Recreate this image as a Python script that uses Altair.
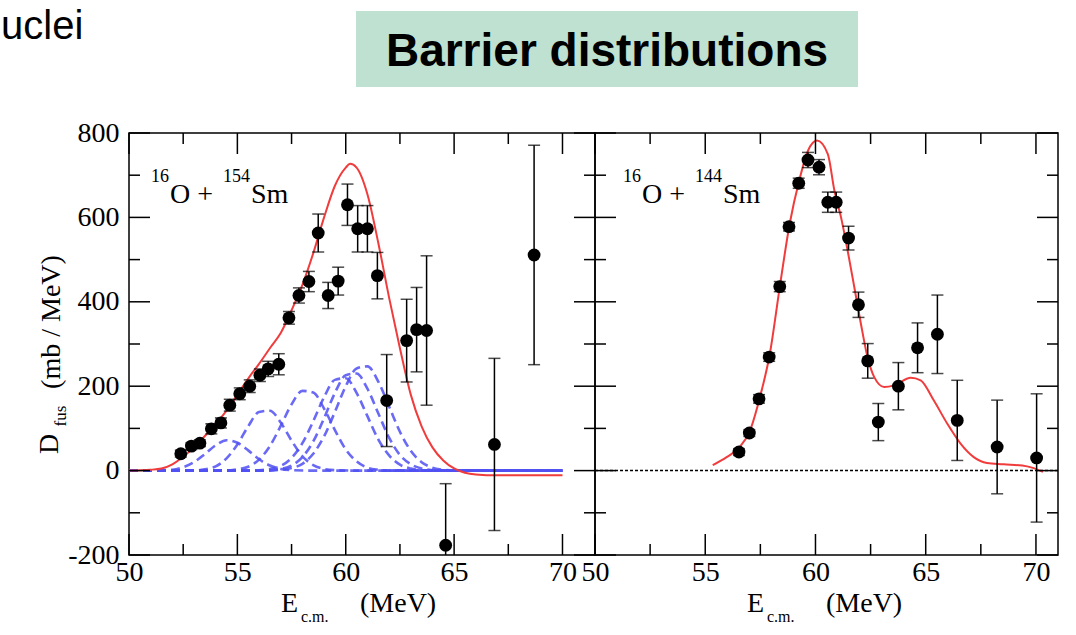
import altair as alt
import pandas as pd

# ---------------- 16O + 154Sm ----------------
# measured barrier distribution: E_cm (MeV), D_fus (mb/MeV), error
sm154_e = [52.39, 52.88, 53.27, 53.80, 54.24, 54.65, 55.11, 55.57, 56.04, 56.42, 56.91,
           57.38, 57.84, 58.30, 58.73, 59.19, 59.65, 60.08, 60.55, 61.00, 61.46, 61.89,
           62.81, 63.27, 63.73, 64.61, 66.86, 68.69]
sm154_d = [40, 58, 65, 99, 113, 155, 182, 200, 226, 241, 252,
           362, 415, 448, 563, 415, 449, 630, 573, 573, 462, 166,
           308, 334, 332, -177, 62, 511]
sm154_err = [8, 8, 8, 12, 12, 14, 14, 15, 15, 18, 25,
             15, 18, 24, 45, 31, 33, 49, 55, 55, 55, 109,
             98, 100, 177, 146, 204, 260]

# calculated distribution
sm154_fit_e = [50, 51, 51.5, 52, 52.5, 53, 53.5, 54, 54.5, 55, 55.5, 56, 56.5, 57, 57.5,
               58, 58.5, 59, 59.5, 60, 60.2, 60.5, 61, 61.5, 62, 62.5, 63, 63.5, 64,
               64.5, 65, 65.5, 66, 67, 70]
sm154_fit_d = [0, 2, 5, 15, 33, 55, 82, 110, 142, 180, 218, 253, 290, 326, 380,
               440, 515, 600, 675, 718, 727, 718, 655, 540, 410, 290, 180, 105, 55,
               24, 5, -5, -9, -11, -11]

# individual barriers of the calculation (dashed)
bar1_e = [50, 52, 52.5, 53, 53.5, 54, 54.5, 55, 55.5, 56, 56.5, 57, 57.5, 58.5, 70]
bar1_d = [0, 2, 8, 20, 39, 60, 72, 66, 48, 27, 12, 4, 1, 0, 0]
bar2_e = [50, 53, 53.5, 54, 54.5, 55, 55.5, 56, 56.5, 57, 57.5, 58, 58.5, 59, 59.5, 60.5, 70]
bar2_d = [0, 0, 3, 10, 29, 62, 105, 139, 142, 114, 71, 34, 13, 4, 1, 0, 0]
bar3_e = [50, 54.5, 55, 55.5, 56, 56.5, 57, 57.5, 58, 58.5, 59, 59.5, 60, 60.5, 61, 61.5, 62, 70]
bar3_d = [0, 0, 3, 9, 26, 58, 106, 157, 189, 185, 147, 96, 50, 22, 7, 2, 0, 0]
bar4_e = [50, 55.5, 56, 56.5, 57, 57.5, 58, 58.5, 59, 59.5, 60, 60.5, 61, 61.5, 62, 62.5,
          63, 63.5, 64, 70]
bar4_d = [0, 0, 1, 4, 11, 30, 65, 117, 174, 215, 219, 184, 129, 74, 36, 14, 5, 1, 0, 0]
bar5_e = [50, 56, 56.5, 57, 57.5, 58, 58.5, 59, 59.5, 60, 60.5, 61, 61.5, 62, 62.5, 63,
          63.5, 64, 64.5, 70]
bar5_d = [0, 0, 1, 4, 12, 32, 69, 124, 184, 226, 230, 194, 136, 78, 37, 15, 5, 1, 0, 0]
bar6_e = [50, 56.5, 57, 57.5, 58, 58.5, 59, 59.5, 60, 60.5, 61, 61.5, 62, 62.5, 63, 63.5,
          64, 64.5, 65, 70]
bar6_d = [0, 0, 2, 6, 16, 40, 81, 139, 200, 242, 247, 211, 152, 92, 47, 20, 7, 2, 0, 0]

# common zero level of the barrier components
bar_base_e = [62, 70]
bar_base_d = [0, 0]

# ---------------- 16O + 144Sm ----------------
sm144_e = [56.53, 57.0, 57.44, 57.9, 58.38, 58.8, 59.24, 59.66, 60.16, 60.56, 60.94,
           61.5, 61.95, 62.37, 62.85, 63.76, 64.63, 65.53, 66.43, 68.24, 70.03]
sm144_d = [44, 89, 170, 269, 436, 578, 681, 736, 719, 636, 636,
           551, 393, 260, 115, 200, 291, 323, 119, 56, 30]
sm144_err = [8, 8, 10, 10, 12, 10, 12, 18, 18, 24, 24,
             28, 30, 41, 44, 56, 59, 93, 95, 111, 152]

sm144_fit_e = [55.34, 55.97, 56.55, 57.03, 57.48, 57.93, 58.38, 58.83, 59.28, 59.66,
               60.07, 60.56, 60.86, 61.16, 61.46, 61.76, 62.06, 62.36, 62.66, 63.12,
               63.57, 64.32, 64.77, 65.37, 65.98, 66.58, 67.18, 67.78, 68.54, 69.6, 70.32]
sm144_fit_d = [13, 32, 55, 95, 174, 277, 435, 585, 691, 758,
               782, 750, 663, 600, 521, 435, 348, 269, 222, 198,
               202, 220, 214, 166, 111, 64, 32, 18, 15, 10, -3]

zero_e = [50, 71]
zero_d = [0, 0]

# ---------------- axes ----------------
x_major = [50, 55, 60, 65, 70]
x_minor = [52.5, 57.5, 62.5, 67.5]
y_major = [-200, 0, 200, 400, 600, 800]
y_minor = [-100, 100, 300, 500, 700]

LEFT_W, RIGHT_W, PANEL_H = 466, 463, 422
MAJOR, MINOR = 21, 11
SERIF = "Liberation Serif"
RED = "#f03c3c"
BLUE = "#5050f2"

Y_SCALE = alt.Scale(domain=[-200, 800], nice=False, zero=False)


def points_df(e, d, err):
    df = pd.DataFrame({"e": e, "d": d, "err": err})
    df["lo"] = df["d"] - df["err"]
    df["hi"] = df["d"] + df["err"]
    return df


def text(t, x, y, size, font=SERIF, align="left", **kw):
    return alt.Chart(pd.DataFrame({"t": [t]})).mark_text(
        font=font, fontSize=size, align=align, baseline="alphabetic",
        color="black", **kw
    ).encode(x=alt.value(x), y=alt.value(y), text="t:N")


def system_label(mass, x0):
    # e.g. 16O + 154Sm with raised mass numbers
    return [
        text("16", x0, 49, 18),
        text("O + ", x0 + 19, 70, 28),
        text(mass, x0 + 72, 49, 18),
        text("Sm", x0 + 100, 70, 28),
    ]


def x_title():
    return [
        text("E", 152, 479, 28),
        text("c.m.", 172, 489, 16),
        text("(MeV)", 231, 479, 28),
    ]


def panel(width, xdom, pts, fit_e, fit_d, show_y, background_layers, curve_layers):
    xs = alt.Scale(domain=xdom, nice=False, zero=False)
    xaxis = alt.Axis(values=x_major, ticks=False, domain=False, labelPadding=3,
                     title=None, labelOverlap=False, labelFlush=False,
                     labelExpr="'' + datum.value")
    yaxis = (alt.Axis(values=y_major, ticks=False, domain=False, labelPadding=10,
                      title=None, labelOverlap=False, labelFlush=False,
                      labelExpr="'' + datum.value")
             if show_y else None)

    def X(f):
        return alt.X(f"{f}:Q", scale=xs, axis=xaxis)

    def Y(f):
        return alt.Y(f"{f}:Q", scale=Y_SCALE, axis=yaxis)

    layers = list(background_layers)
    layers += [c(X, Y) for c in curve_layers]

    fit = alt.Chart(pd.DataFrame({"e": fit_e, "d": fit_d})).mark_line(
        color=RED, strokeWidth=2, interpolate="monotone"
    ).encode(x=X("e"), y=Y("d"))
    layers.append(fit)

    bars = alt.Chart(pts).mark_rule(color="black", strokeWidth=1.5, clip=True).encode(
        x=X("e"), y=Y("lo"), y2="hi:Q")
    cap_lo = alt.Chart(pts).mark_tick(color="black", orient="horizontal", size=12,
                                      thickness=1.5, clip=True).encode(x=X("e"), y=Y("lo"))
    cap_hi = alt.Chart(pts).mark_tick(color="black", orient="horizontal", size=12,
                                      thickness=1.5, clip=True).encode(x=X("e"), y=Y("hi"))
    dots = alt.Chart(pts).mark_circle(color="black", size=165, opacity=1).encode(
        x=X("e"), y=Y("d"))
    layers += [bars, cap_lo, cap_hi, dots]

    # inward ticks on all four sides
    for vals, length in ((x_major, MAJOR), (x_minor, MINOR)):
        base = alt.Chart(pd.DataFrame({"v": vals})).mark_rule(color="black", strokeWidth=1.5)
        layers.append(base.encode(x=X("v"), y=alt.value(PANEL_H), y2=alt.value(PANEL_H - length)))
        layers.append(base.encode(x=X("v"), y=alt.value(0), y2=alt.value(length)))
    for vals, length in ((y_major, MAJOR), (y_minor, MINOR)):
        base = alt.Chart(pd.DataFrame({"v": vals})).mark_rule(color="black", strokeWidth=1.5)
        layers.append(base.encode(y=Y("v"), x=alt.value(0), x2=alt.value(length)))
        layers.append(base.encode(y=Y("v"), x=alt.value(width), x2=alt.value(width - length)))

    return alt.layer(*layers).properties(width=width, height=PANEL_H)


# ---------------- left panel: 16O + 154Sm ----------------
bars_df = pd.concat([
    pd.DataFrame({"e": e, "d": d, "comp": i})
    for i, (e, d) in enumerate([(bar1_e, bar1_d), (bar2_e, bar2_d), (bar3_e, bar3_d),
                                (bar4_e, bar4_d), (bar5_e, bar5_d), (bar6_e, bar6_d)])
])


def barrier_curves(X, Y):
    return alt.Chart(bars_df).mark_line(
        color=BLUE, strokeWidth=2.6, strokeDash=[9, 5], interpolate="monotone", opacity=0.85
    ).encode(x=X("e"), y=Y("d"), detail="comp:N")


def barrier_base(X, Y):
    return alt.Chart(pd.DataFrame({"e": bar_base_e, "d": bar_base_d})).mark_line(
        color=BLUE, strokeWidth=2.6, opacity=0.85
    ).encode(x=X("e"), y=Y("d"))


header = [
    alt.Chart(pd.DataFrame({"a": [0]})).mark_rect(color="#bfe1d1").encode(
        x=alt.value(227), x2=alt.value(729), y=alt.value(-122), y2=alt.value(-46)),
    text("Barrier distributions", 478, -67, 46, font="Liberation Sans", align="center",
         fontWeight="bold"),
    text("uclei", -128, -94, 40, font="Liberation Sans"),
]

y_title = [
    text("D", -71, 311, 28, align="center", angle=270),
    text("fus", -63, 283, 17, align="center", angle=270),
    text("(mb / MeV)", -69, 189, 28, align="center", angle=270),
]

left = panel(
    LEFT_W, [50, 71.5], points_df(sm154_e, sm154_d, sm154_err),
    sm154_fit_e, sm154_fit_d, True,
    header,
    [barrier_base, barrier_curves],
)
left = alt.layer(left, *system_label("154", 22), *y_title, *x_title())


# ---------------- right panel: 16O + 144Sm ----------------
def zero_line(X, Y):
    return alt.Chart(pd.DataFrame({"e": zero_e, "d": zero_d})).mark_line(
        color="black", strokeWidth=1.5, strokeDash=[3, 2]
    ).encode(x=X("e"), y=Y("d"))


right = panel(
    RIGHT_W, [50, 71], points_df(sm144_e, sm144_d, sm144_err),
    sm144_fit_e, sm144_fit_d, False,
    [],
    [zero_line],
)
right = alt.layer(right, *system_label("144", 28), *x_title())

chart = alt.hconcat(left, right, spacing=0, bounds="flush").properties(
    padding={"left": 0, "top": 6, "right": 0, "bottom": 0},
    background="white",
).configure_view(
    stroke="black", strokeWidth=1.5
).configure_axis(
    grid=False, labelFont=SERIF, labelFontSize=28, labelColor="black"
)

chart.save("out.html", embed_options={"renderer": "svg", "actions": False})
